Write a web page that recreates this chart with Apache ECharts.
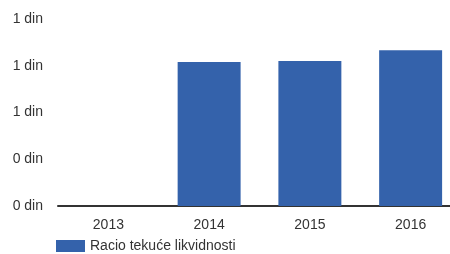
<!DOCTYPE html>
<html>
<head>
<meta charset="utf-8">
<script src="https://cdn.jsdelivr.net/npm/echarts@6/dist/echarts.min.js"></script>
<style>
html,body{margin:0;padding:0;background:#fff}
#chart{width:450px;height:254px}
</style>
</head>
<body>
<div id="chart"></div>
<script>
var years = ["2013", "2014", "2015", "2016"];
var ratio = [null, 0.924, 0.93, 1.0];
var seriesName = "Racio tekuće likvidnosti";

var myChart = echarts.init(document.getElementById("chart"));
var option = {
	animation: false,
	textStyle: { fontFamily: "Liberation Sans, Arial, sans-serif" },
	grid: { left: 58, width: 403, top: 19, bottom: 48, outerBoundsMode: "none" },
	legend: {
		left: 56, bottom: 1, padding: 0, itemWidth: 29, itemHeight: 12, itemGap: 10,
		textStyle: { color: "#333", fontSize: 14, fontFamily: "Liberation Sans, Arial, sans-serif" },
		data: [{ name: seriesName, icon: "rect" }]
	},
	xAxis: {
		type: "category", data: years,
		axisLine: { lineStyle: { color: "#333", width: 2 } },
		axisTick: { show: false },
		axisLabel: { color: "#333", fontSize: 14, margin: 12 }
	},
	yAxis: {
		type: "value", min: 0, max: 1.2, interval: 0.3,
		splitLine: { show: false },
		axisLabel: {
			color: "#333", fontSize: 14, margin: 15,
			formatter: function(v) { return Math.round(v) + " din" }
		}
	},
	series: [{
		name: seriesName, type: "bar", data: ratio, barWidth: "62.5%",
		itemStyle: { color: "#3462ab" }
	}]
};
myChart.setOption(option);
</script>
</body>
</html>
